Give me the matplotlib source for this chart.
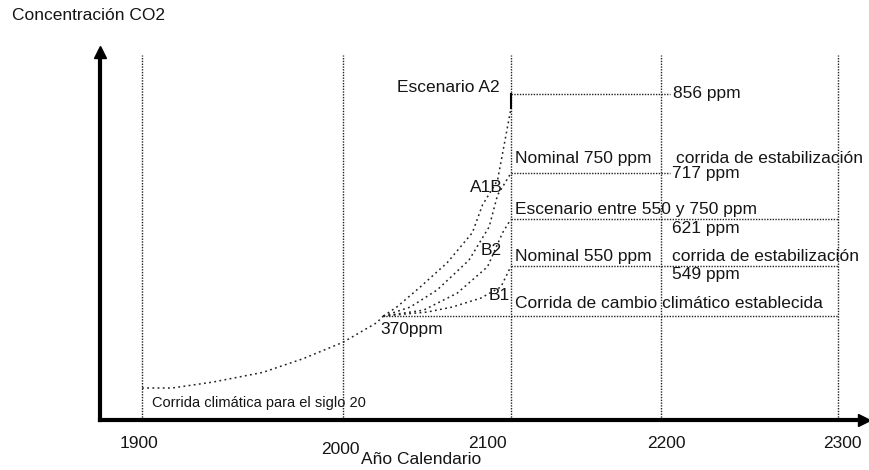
import numpy as np
import matplotlib
matplotlib.use("Agg")
import matplotlib.pyplot as plt

plt.rcParams['font.family'] = ['Liberation Sans', 'DejaVu Sans']

# lineas verticales de referencia (años)
grid_years = [1900, 2000, 2100, 2200, 2300]
tick_labels = ['1900', '2000', '2100', '2200', '2300']

# curva del siglo 20
siglo20_years = [1900, 1915, 1935, 1960, 1980, 2000, 2020, 2024]
siglo20_ppm = [296, 296, 302, 312, 326, 343, 363, 370]

# escenarios hasta 2100
a2_years = [2024, 2032, 2046, 2062, 2077, 2083, 2092, 2100]
a2_ppm = [370, 402, 474, 554, 600, 650, 702, 831]
a1b_years = [2024, 2040, 2056, 2075, 2087, 2092, 2100]
a1b_ppm = [370, 402, 463, 558, 609, 671, 717]
b2_years = [2024, 2048, 2068, 2086, 2095, 2100]
b2_ppm = [370, 391, 452, 546, 600, 621]
b1_years = [2024, 2050, 2065, 2082, 2094, 2100]
b1_ppm = [370, 384, 402, 434, 474, 549]

# niveles de estabilizacion
a2_top = 856
level_short = [856, 717]     # hasta 2200
level_long = [621, 549, 370]  # hasta 2300
level_long_start = [2100, 2100, 2024]

# escala esquematica (no lineal) del dibujo original
x_anchor_years = [1879, 1900, 2000, 2100, 2200, 2300, 2315]
x_anchor_pos = [0, 42, 243, 411, 561, 738, 764]
y_anchor_ppm = [264, 296, 370, 549, 621, 717, 856, 930]
y_anchor_pos = [0, 32, 104, 154, 201, 247, 326, 368]


def fwd_x(v):
    return np.interp(v, x_anchor_years, x_anchor_pos)


def inv_x(v):
    return np.interp(v, x_anchor_pos, x_anchor_years)


def fwd_y(v):
    return np.interp(v, y_anchor_ppm, y_anchor_pos)


def inv_y(v):
    return np.interp(v, y_anchor_pos, y_anchor_ppm)


fig = plt.figure(figsize=(8.7, 4.7), dpi=100)
ax = fig.add_axes([100 / 870, 50 / 470, 764 / 870, 368 / 470])
ax.set_xscale('function', functions=(fwd_x, inv_x))
ax.set_yscale('function', functions=(fwd_y, inv_y))
ax.set_xlim(1879, 2315)
ax.set_ylim(264, 930)
ax.set_xticks([])
ax.set_yticks([])
for s in ['top', 'right']:
    ax.spines[s].set_visible(False)
ax.spines['left'].set_linewidth(3)
ax.spines['bottom'].set_linewidth(3)
ax.plot(0, 1, marker='^', color='black', ms=8, transform=ax.transAxes, clip_on=False)
ax.plot(1, 0, marker='>', color='black', ms=8, transform=ax.transAxes, clip_on=False)

dense = (0, (1, 1))
sparse = (0, (1.2, 2.2))
gc = '#222222'
tc = '#151515'

# verticales
ax.vlines(grid_years, 264, 925, colors=gc, linestyles=dense, linewidth=1)

# horizontales
ax.hlines(level_short, 2100, 2205, colors=gc, linestyles=dense, linewidth=1)
ax.hlines(level_long, level_long_start, 2300, colors=gc, linestyles=dense, linewidth=1)

# curvas
ax.plot(siglo20_years, siglo20_ppm, color=gc, ls=sparse, lw=1.1)
for yy, pp in [(a2_years, a2_ppm), (a1b_years, a1b_ppm), (b2_years, b2_ppm), (b1_years, b1_ppm)]:
    ax.plot(yy, pp, color=gc, ls=sparse, lw=1.1)
ax.plot([2100, 2100], [a2_ppm[-1], a2_top], color='black', lw=1.5)

fs = 12.5
ax.text(2093.5, 868, 'Escenario A2', ha='right', va='center', fontsize=fs, color=tc)
ax.text(2207, 856, '856 ppm', ha='left', va='center', fontsize=fs, color=tc)
ax.text(2103, 742, 'Nominal 750 ppm', ha='left', va='center', fontsize=fs, color=tc)
ax.text(2208.5, 742, 'corrida de estabilización', ha='left', va='center', fontsize=fs, color=tc)
ax.text(2206, 715, '717 ppm', ha='left', va='center', fontsize=fs, color=tc)
ax.text(2103, 640, 'Escenario entre 550 y 750 ppm', ha='left', va='center', fontsize=fs, color=tc)
ax.text(2206, 606, '621 ppm', ha='left', va='center', fontsize=fs, color=tc)
ax.text(2103, 563, 'Nominal 550 ppm', ha='left', va='center', fontsize=fs, color=tc)
ax.text(2206, 563, 'corrida de estabilización', ha='left', va='center', fontsize=fs, color=tc)
ax.text(2206, 517, '549 ppm', ha='left', va='center', fontsize=fs, color=tc)
ax.text(2103, 416.5, 'Corrida de cambio climático establecida', ha='left', va='center',
        fontsize=fs, color=tc)
ax.text(2095, 686, 'A1B', ha='right', va='center', fontsize=fs, color=tc)
ax.text(2094.6, 572, 'B2', ha='right', va='center', fontsize=fs, color=tc)
ax.text(2099.4, 441.6, 'B1', ha='right', va='center', fontsize=fs, color=tc)
ax.text(2022, 356.6, '370ppm', ha='left', va='center', fontsize=fs, color=tc)
ax.text(1905, 281, 'Corrida climática para el siglo 20', ha='left', va='center',
        fontsize=10.5, color=tc)

# etiquetas del eje x
dx = [-3, -3, -24, 5, 4]
dy = [-23, -29, -23, -23, -23]
for yr, lab, ox, oy in zip(grid_years, tick_labels, dx, dy):
    ax.annotate(lab, (yr, 0), xycoords=('data', 'axes fraction'), xytext=(ox, oy),
                textcoords='offset pixels', ha='center', va='center', fontsize=fs,
                color=tc, annotation_clip=False)

fig.text(421 / 870, 1 - 460 / 470, 'Año Calendario', ha='center', va='center',
         fontsize=fs, color=tc)
fig.text(12 / 870, 1 - 16 / 470, 'Concentración CO2', ha='left', va='center',
         fontsize=12.5, color=tc)

fig.savefig('out.png', dpi=100)
